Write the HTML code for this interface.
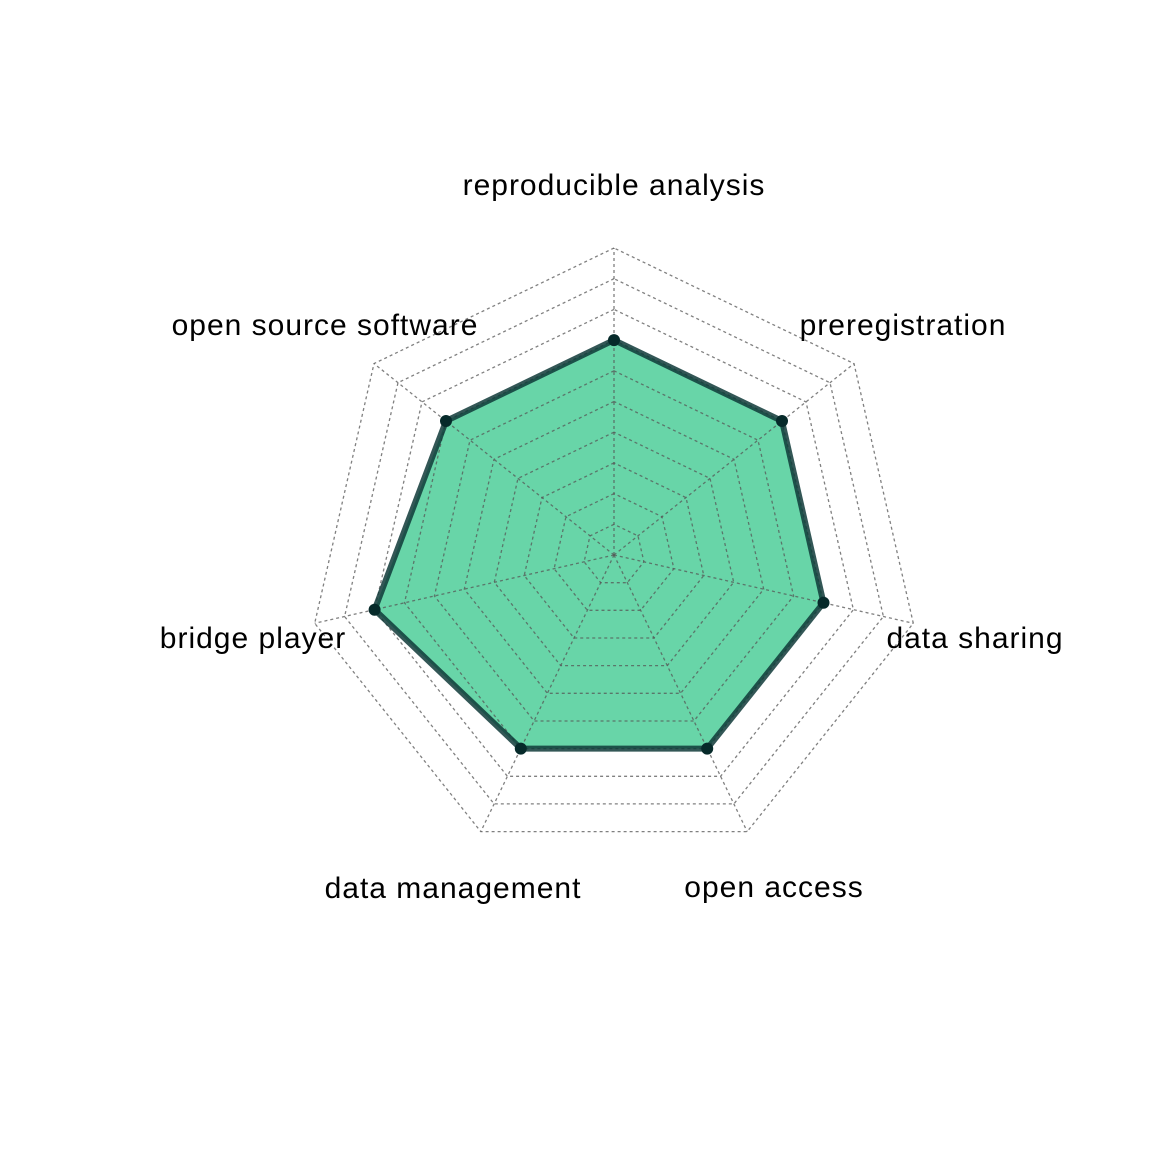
<!DOCTYPE html>
<html><head><style>
html,body{margin:0;padding:0;background:#fff;}
svg text{font-family:"Liberation Sans",Arial,sans-serif;font-size:30px;letter-spacing:1px;fill:#000;}
</style></head><body>
<svg id="s" width="1152" height="1152" viewBox="0 0 1152 1152" xmlns="http://www.w3.org/2000/svg">
<g id="g"></g>
<text x="614" y="195" text-anchor="middle">reproducible analysis</text>
<text x="325" y="335" text-anchor="middle">open source software</text>
<text x="903" y="335" text-anchor="middle">preregistration</text>
<text x="253" y="648" text-anchor="middle">bridge player</text>
<text x="975" y="648" text-anchor="middle">data sharing</text>
<text x="453" y="898" text-anchor="middle">data management</text>
<text x="774" y="897" text-anchor="middle">open access</text>
</svg>
<script>
var cx=614,cy=555,R=307,n=7,g=document.getElementById('g'),h='';
function pt(i,r){var a=(90+i*360/n)*Math.PI/180;return [cx+r*Math.cos(a),cy-r*Math.sin(a)];}
var vals=[0.7,0.7,0.8,0.7,0.7,0.7,0.7];
var dp=vals.map(function(v,i){return pt(i,v*R).map(function(x){return x.toFixed(1)}).join(',')}).join(' ');
h+='<polygon points="'+dp+'" fill="#2ec587" fill-opacity="0.72" stroke="none"/>';
for(var l=1;l<=10;l++){var p=[];for(var i=0;i<n;i++)p.push(pt(i,R*l/10).map(function(x){return x.toFixed(1)}).join(','));
h+='<polygon points="'+p.join(' ')+'" fill="none" stroke="#555" stroke-opacity="0.75" stroke-width="1.3" stroke-dasharray="3,3"/>';}
for(var i=0;i<n;i++){var e=pt(i,R);h+='<line x1="'+cx+'" y1="'+cy+'" x2="'+e[0].toFixed(1)+'" y2="'+e[1].toFixed(1)+'" stroke="#555" stroke-opacity="0.75" stroke-width="1.3" stroke-dasharray="3,3"/>';}
h+='<polygon points="'+dp+'" fill="none" stroke="#0f3a38" stroke-opacity="0.85" stroke-width="6" stroke-linejoin="round"/>';
vals.forEach(function(v,i){var q=pt(i,v*R);h+='<circle cx="'+q[0].toFixed(1)+'" cy="'+q[1].toFixed(1)+'" r="6" fill="#062a2a"/>';});
g.innerHTML=h;
</script>
</body></html>
